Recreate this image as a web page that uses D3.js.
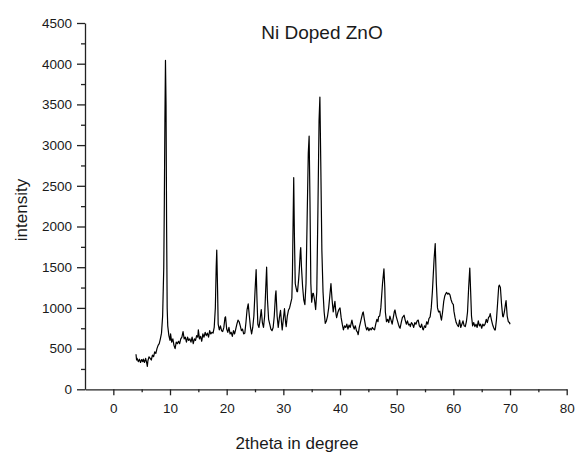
<!DOCTYPE html>
<html><head><meta charset="utf-8">
<script src="https://cdn.jsdelivr.net/npm/d3@7/dist/d3.min.js"></script>
<style>body{margin:0;background:#fff}svg{display:block}text{font-family:"Liberation Sans",Arial,sans-serif;fill:#1a1a1a}</style>
</head><body>
<script>
const title = "Ni Doped ZnO";
const xLabel = "2theta in degree";
const yLabel = "intensity";
const xTicks = [0,10,20,30,40,50,60,70,80];
const xMinorTicks = [5,15,25,35,45,55,65,75];
const yTicks = [0,500,1000,1500,2000,2500,3000,3500,4000,4500];
const yMinorTicks = [250,750,1250,1750,2250,2750,3250,3750,4250];
const twoTheta = [4.0,4.1,4.2,4.4,4.6,4.8,5.0,5.2,5.3,5.5,5.7,5.9,6.0,6.1,6.3,6.5,6.7,6.9,7.1,7.3,7.5,7.7,7.9,8.1,8.3,8.5,8.7,8.9,9.0,9.1,9.2,9.3,9.4,9.5,9.6,9.8,10.0,10.1,10.3,10.5,10.7,10.9,11.1,11.3,11.5,11.7,11.9,12.1,12.3,12.5,12.7,12.9,13.1,13.3,13.5,13.7,13.9,14.1,14.3,14.5,14.7,14.9,15.0,15.2,15.4,15.6,15.8,16.0,16.2,16.4,16.6,16.8,17.0,17.2,17.4,17.6,17.8,18.0,18.15,18.25,18.4,18.5,18.7,18.9,19.1,19.3,19.5,19.7,19.8,20.0,20.2,20.4,20.6,20.8,21.0,21.2,21.4,21.6,21.8,22.0,22.2,22.4,22.6,22.8,23.0,23.2,23.4,23.6,23.8,24.0,24.2,24.4,24.6,24.8,25.0,25.2,25.35,25.5,25.7,25.9,26.1,26.3,26.5,26.7,26.9,27.05,27.2,27.4,27.6,27.8,28.0,28.2,28.4,28.6,28.7,28.9,29.1,29.3,29.5,29.7,29.8,30.0,30.2,30.4,30.5,30.7,30.9,31.1,31.3,31.5,31.6,31.75,31.83,31.95,32.1,32.2,32.4,32.5,32.7,32.8,33.0,33.07,33.2,33.4,33.6,33.8,34.0,34.2,34.4,34.55,34.7,34.85,35.0,35.2,35.3,35.5,35.7,35.9,36.1,36.3,36.45,36.6,36.8,37.0,37.2,37.4,37.6,37.8,38.0,38.2,38.4,38.6,38.8,39.0,39.1,39.3,39.4,39.6,39.8,40.0,40.2,40.4,40.6,40.8,41.0,41.2,41.4,41.6,41.8,42.0,42.1,42.3,42.5,42.7,42.9,43.1,43.2,43.4,43.6,43.8,44.0,44.1,44.3,44.5,44.7,44.9,45.1,45.3,45.5,45.7,45.9,46.1,46.3,46.5,46.7,46.8,47.0,47.2,47.5,47.75,47.9,48.0,48.2,48.4,48.6,48.8,49.0,49.2,49.4,49.6,49.7,49.9,50.1,50.3,50.5,50.6,50.8,51.0,51.3,51.5,51.7,51.9,52.1,52.3,52.4,52.6,52.8,53.0,53.2,53.4,53.6,53.8,54.0,54.2,54.4,54.6,54.7,54.9,55.1,55.3,55.5,55.7,55.9,56.1,56.3,56.6,56.8,57.0,57.2,57.4,57.6,57.8,57.9,58.1,58.3,58.5,58.7,58.8,59.0,59.2,59.4,59.6,59.8,60.0,60.1,60.3,60.5,60.7,60.9,61.1,61.3,61.5,61.7,61.9,62.1,62.3,62.5,62.7,62.9,63.05,63.2,63.4,63.6,63.8,64.0,64.2,64.4,64.6,64.8,65.0,65.2,65.4,65.6,65.8,66.0,66.2,66.4,66.5,66.7,66.9,67.1,67.3,67.4,67.6,67.8,68.0,68.1,68.3,68.5,68.7,68.8,69.0,69.2,69.3,69.5,69.7,69.9,70.0];
const intensity = [430,360,380,340,370,330,365,340,370,330,380,320,280,350,400,380,360,420,400,460,440,500,540,560,620,690,900,1500,2300,3300,4040,3500,2000,1000,780,660,600,680,580,620,540,500,580,560,590,560,620,640,710,620,640,580,640,600,620,580,640,560,620,600,660,640,730,620,650,590,680,640,700,660,690,640,720,680,700,690,760,1000,1500,1710,1200,800,730,780,720,710,760,880,890,740,700,760,680,700,650,720,680,740,800,850,830,780,720,740,680,690,820,980,1050,900,760,680,760,900,1200,1470,1100,800,760,860,980,820,760,900,1250,1500,1100,860,800,740,720,760,900,1150,1210,900,760,880,970,800,730,860,990,820,770,900,970,1000,1060,1120,1400,2200,2600,1900,1300,1260,1200,1200,1350,1450,1700,1740,1500,1260,1100,1040,1300,2100,2900,3110,2300,1300,1070,1180,1180,1100,980,1200,2200,3300,3590,2800,1700,1200,950,810,840,900,1000,1150,1300,1100,950,1040,1080,920,880,940,980,1000,880,800,730,780,760,800,740,790,760,820,850,780,740,780,720,700,670,760,820,880,940,950,860,780,730,760,720,750,730,760,740,730,800,860,830,890,900,1000,1300,1480,1250,950,830,860,820,900,850,800,880,960,975,900,850,800,760,750,820,880,910,850,800,840,790,800,770,820,800,760,820,800,840,850,780,760,800,740,730,780,760,830,800,870,890,1000,1200,1600,1790,1300,1000,950,960,880,850,950,1080,1150,1180,1190,1170,1180,1160,1100,1060,1040,960,880,820,790,770,850,760,800,840,780,770,830,950,1250,1490,1200,900,780,820,770,800,760,840,780,800,750,800,780,800,860,820,880,900,930,860,800,760,730,730,850,1050,1260,1280,1250,1050,900,890,950,1050,1090,900,830,820,800];

const W = 578, H = 455;
const svg = d3.select("body").append("svg").attr("width", W).attr("height", H);
const x = d3.scaleLinear().domain([-5, 80]).range([85, 566.7]);
const y = d3.scaleLinear().domain([0, 4500]).range([389.3, 23]);

const line = d3.line().x(d => x(d[0])).y(d => y(d[1]));
const pts = twoTheta.map((t, i) => [t, intensity[i]]);
svg.append("path").datum(pts).attr("d", line)
  .attr("fill", "none").attr("stroke", "#000").attr("stroke-width", 1.2).attr("stroke-linejoin", "round");

// axes
svg.append("g").attr("transform", `translate(0,${y(0)})`)
  .call(d3.axisBottom(x).tickValues(xTicks).tickSize(6).tickSizeOuter(0).tickPadding(8).tickFormat(d3.format("d")));
svg.append("g").attr("transform", `translate(0,${y(0)})`)
  .call(d3.axisBottom(x).tickValues(xMinorTicks).tickSize(3).tickSizeOuter(0).tickFormat(""))
  .select(".domain").remove();
svg.append("g").attr("transform", `translate(${x(-5)},0)`)
  .call(d3.axisLeft(y).tickValues(yTicks).tickSize(8).tickSizeOuter(0).tickPadding(5).tickFormat(d3.format("d")));
svg.append("g").attr("transform", `translate(${x(-5)},0)`)
  .call(d3.axisLeft(y).tickValues(yMinorTicks).tickSize(4).tickSizeOuter(0).tickFormat(""))
  .select(".domain").remove();
svg.selectAll(".tick line, .domain").attr("stroke", "#222").attr("stroke-width", 1.3);
svg.selectAll(".tick text").attr("font-size", 13.5).attr("font-family", "Liberation Sans, Arial, sans-serif").attr("fill", "#1a1a1a");

svg.append("text").attr("x", 322).attr("y", 39).attr("text-anchor", "middle").attr("font-size", 19).text(title);
svg.append("text").attr("x", 297).attr("y", 449).attr("text-anchor", "middle").attr("font-size", 17).text(xLabel);
svg.append("text").attr("transform", "translate(27,210) rotate(-90)").attr("text-anchor", "middle").attr("font-size", 17).text(yLabel);
</script>
</body></html>
